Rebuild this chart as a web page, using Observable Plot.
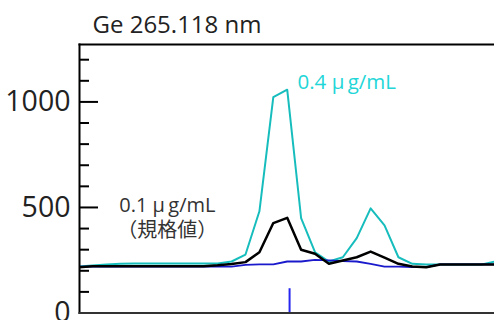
<!DOCTYPE html>
<html>
<head>
<meta charset="utf-8">
<script src="https://cdn.jsdelivr.net/npm/d3@7"></script>
<script src="https://cdn.jsdelivr.net/npm/@observablehq/plot@0.6"></script>
<style>
  html, body { margin: 0; padding: 0; background: #fff; }
</style>
</head>
<body>
<div id="chart"></div>
<script>
const title = "Ge 265.118 nm";
const sampleIndex = [0,1,2,3,4,5,6,7,8,9,10,11,12,13,14,15,16,17,18,19,20,21,22,23,24,25,26,27,28,29,30];
const conc04 = [220,225,230,233,235,235,235,235,235,235,235,244,277,482,1023,1058,450,288,244,264,355,496,415,264,233,230,230,230,230,230,245];
const conc01 = [217,222,222,222,222,222,222,222,222,222,226,232,241,288,426,451,300,281,233,249,264,291,262,233,220,217,230,230,230,230,230];
const blank  = [220,220,220,220,220,220,220,220,220,220,220,220,228,230,230,244,244,252,249,246,244,233,220,220,217,217,230,230,230,230,230];
const majorTicks = [0, 500, 1000];
const minorTicks = [100,200,300,400,600,700,800,900,1100,1200];
const peakPosition = [15.17];
const peakMarkerTop = 115;
const label04 = [{x: 15.74, y: 1092, text: "0.4 μ\u2009g/mL"}];
const label01 = [{x: 6.38, y: 455, text: "0.1 μ\u2009g/mL\n（規格値）"}];
const xDomain = [0.06, 29.91];
const yDomain = [0, 1272];

const rows = (vals) => sampleIndex.map((x, i) => ({x, y: vals[i]}));

const chart = Plot.plot({
  width: 494,
  height: 320,
  marginLeft: 79,
  marginRight: 0,
  marginTop: 44,
  marginBottom: 7.5,
  style: {fontFamily: "'Open Sans', 'Noto Sans CJK JP', sans-serif", background: "#fff", color: "#222"},
  x: {domain: xDomain, axis: null},
  y: {domain: yDomain, axis: null},
  marks: [
    Plot.line(rows(conc04), {x: "x", y: "y", stroke: "#17bdbd", strokeWidth: 2, clip: true}),
    Plot.line(rows(blank), {x: "x", y: "y", stroke: "#1a1acc", strokeWidth: 1.8, clip: true}),
    Plot.line(rows(conc01), {x: "x", y: "y", stroke: "#000", strokeWidth: 2.5, clip: true}),
    Plot.ruleX(peakPosition, {x: d => d, y1: 0, y2: peakMarkerTop, stroke: "#2626f0", strokeWidth: 2}),
    Plot.frame({anchor: "left", stroke: "#000", strokeWidth: 2}),
    Plot.frame({anchor: "top", stroke: "#000", strokeWidth: 2}),
    Plot.frame({anchor: "bottom", stroke: "#333", strokeWidth: 2}),
    Plot.axisY(majorTicks.filter(d => d > 0), {anchor: "left", tickSize: 19, dx: 19, strokeWidth: 2, stroke: "#000", fill: "none", label: null}),
    Plot.axisY(minorTicks, {anchor: "left", tickSize: 10, dx: 10, strokeWidth: 2, stroke: "#000", fill: "none", label: null}),
    Plot.axisY(majorTicks, {anchor: "left", tickSize: 0, tickPadding: 9, fontSize: 28.5, fill: "#222", label: null, tickFormat: d => String(d)}),
    Plot.text([title], {frameAnchor: "top-left", dx: 13, dy: -19, text: d => d, textAnchor: "start", lineAnchor: "middle", fontSize: 24, fill: "#222"}),
    Plot.text(label04, {x: "x", y: "y", text: "text", fill: "#22d6d8", textAnchor: "start", lineAnchor: "middle", fontSize: 20.5}),
    Plot.text(label01, {x: "x", y: "y", text: "text", fill: "#333", textAnchor: "middle", lineAnchor: "middle", fontSize: 20, lineHeight: 1.25})
  ]
});
document.getElementById("chart").appendChild(chart);
</script>
</body>
</html>
